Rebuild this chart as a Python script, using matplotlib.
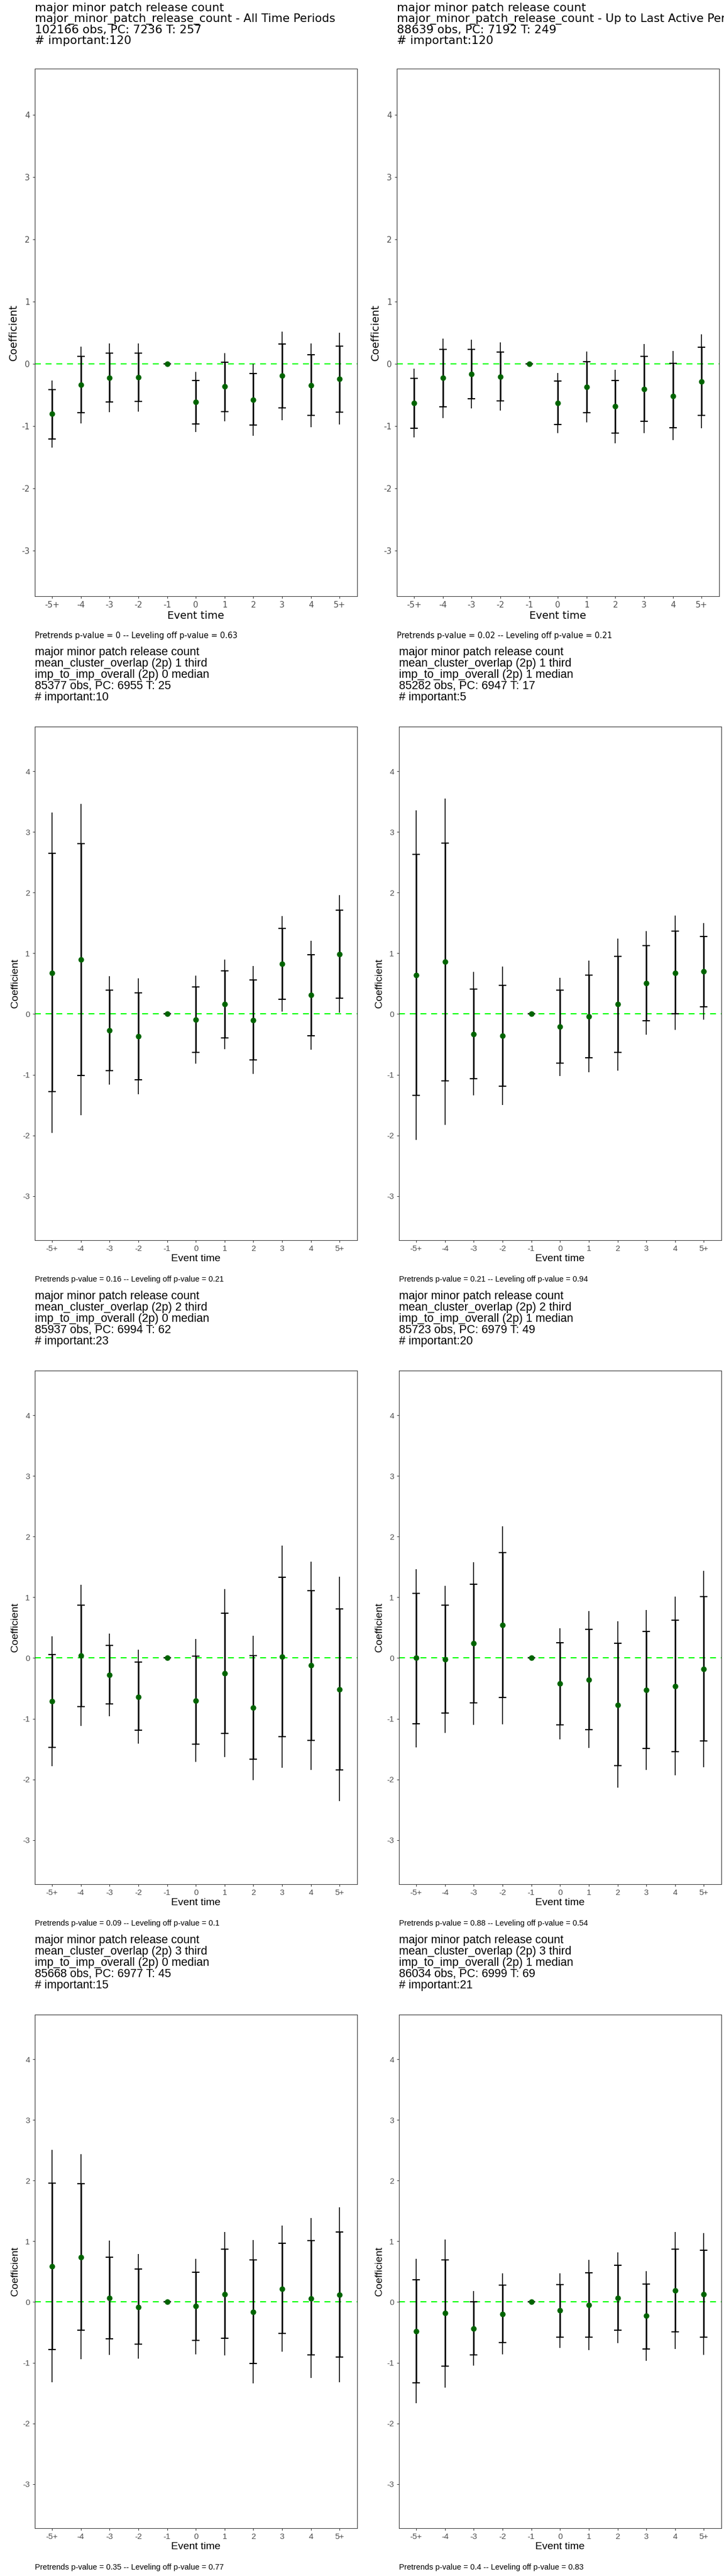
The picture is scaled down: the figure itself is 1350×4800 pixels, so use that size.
import matplotlib
matplotlib.use("Agg")
import matplotlib.pyplot as plt
import numpy as np

event_labels = ['-5+', '-4', '-3', '-2', '-1', '0', '1', '2', '3', '4', '5+']

# each panel: estimate, inner interval (lo/hi), outer interval (lo/hi)
p1_est = [-0.80, -0.33, -0.22, -0.21, 0, -0.61, -0.36, -0.57, -0.19, -0.34, -0.24]
p1_lo_in = [-1.20, -0.78, -0.61, -0.60, 0, -0.96, -0.76, -0.98, -0.70, -0.82, -0.77]
p1_hi_in = [-0.41, 0.12, 0.18, 0.18, 0, -0.26, 0.03, -0.15, 0.32, 0.15, 0.29]
p1_lo_out = [-1.34, -0.95, -0.77, -0.76, 0, -1.09, -0.92, -1.15, -0.90, -1.01, -0.97]
p1_hi_out = [-0.26, 0.28, 0.33, 0.33, 0, -0.13, 0.18, 0.00, 0.52, 0.33, 0.50]

p2_est = [-0.63, -0.22, -0.16, -0.20, 0, -0.63, -0.37, -0.68, -0.40, -0.51, -0.28]
p2_lo_in = [-1.03, -0.69, -0.56, -0.59, 0, -0.97, -0.78, -1.11, -0.92, -1.02, -0.82]
p2_hi_in = [-0.23, 0.24, 0.24, 0.19, 0, -0.27, 0.04, -0.26, 0.12, 0.01, 0.27]
p2_lo_out = [-1.18, -0.87, -0.71, -0.75, 0, -1.11, -0.94, -1.27, -1.11, -1.22, -1.03]
p2_hi_out = [-0.07, 0.41, 0.39, 0.35, 0, -0.14, 0.20, -0.09, 0.32, 0.21, 0.48]

p3_est = [0.68, 0.90, -0.27, -0.37, 0, -0.09, 0.16, -0.10, 0.83, 0.31, 0.99]
p3_lo_in = [-1.28, -1.01, -0.93, -1.08, 0, -0.63, -0.39, -0.76, 0.24, -0.36, 0.26]
p3_hi_in = [2.65, 2.81, 0.39, 0.35, 0, 0.45, 0.71, 0.56, 1.41, 0.98, 1.71]
p3_lo_out = [-1.96, -1.67, -1.16, -1.32, 0, -0.82, -0.58, -0.99, 0.04, -0.59, 0.02]
p3_hi_out = [3.32, 3.46, 0.62, 0.59, 0, 0.63, 0.90, 0.79, 1.61, 1.21, 1.96]

p4_est = [0.64, 0.86, -0.33, -0.36, 0, -0.21, -0.04, 0.16, 0.51, 0.68, 0.70]
p4_lo_in = [-1.34, -1.10, -1.07, -1.19, 0, -0.81, -0.72, -0.63, -0.11, 0.00, 0.12]
p4_hi_in = [2.63, 2.82, 0.41, 0.47, 0, 0.39, 0.64, 0.95, 1.13, 1.37, 1.28]
p4_lo_out = [-2.07, -1.83, -1.34, -1.50, 0, -1.02, -0.96, -0.93, -0.34, -0.26, -0.09]
p4_hi_out = [3.36, 3.55, 0.69, 0.78, 0, 0.60, 0.88, 1.24, 1.37, 1.62, 1.50]

p5_est = [-0.71, 0.04, -0.28, -0.64, 0, -0.70, -0.25, -0.82, 0.02, -0.12, -0.52]
p5_lo_in = [-1.47, -0.80, -0.76, -1.19, 0, -1.42, -1.24, -1.67, -1.30, -1.36, -1.84]
p5_hi_in = [0.06, 0.87, 0.21, -0.07, 0, 0.03, 0.74, 0.04, 1.33, 1.11, 0.81]
p5_lo_out = [-1.78, -1.12, -0.96, -1.41, 0, -1.71, -1.63, -2.01, -1.81, -1.84, -2.36]
p5_hi_out = [0.36, 1.21, 0.40, 0.14, 0, 0.31, 1.14, 0.37, 1.85, 1.59, 1.34]

p6_est = [0.00, -0.02, 0.24, 0.54, 0, -0.42, -0.36, -0.77, -0.53, -0.46, -0.18]
p6_lo_in = [-1.08, -0.91, -0.74, -0.65, 0, -1.10, -1.18, -1.77, -1.49, -1.54, -1.37]
p6_hi_in = [1.07, 0.87, 1.22, 1.74, 0, 0.25, 0.47, 0.24, 0.44, 0.62, 1.01]
p6_lo_out = [-1.47, -1.23, -1.10, -1.09, 0, -1.34, -1.48, -2.14, -1.84, -1.93, -1.80]
p6_hi_out = [1.46, 1.19, 1.58, 2.17, 0, 0.49, 0.77, 0.61, 0.79, 1.01, 1.44]

p7_est = [0.59, 0.74, 0.07, -0.08, 0, -0.07, 0.13, -0.16, 0.22, 0.06, 0.12]
p7_lo_in = [-0.78, -0.46, -0.61, -0.69, 0, -0.63, -0.60, -1.01, -0.52, -0.87, -0.91]
p7_hi_in = [1.96, 1.95, 0.74, 0.54, 0, 0.49, 0.87, 0.69, 0.97, 1.01, 1.15]
p7_lo_out = [-1.32, -0.94, -0.87, -0.93, 0, -0.86, -0.88, -1.34, -0.82, -1.25, -1.32]
p7_hi_out = [2.51, 2.44, 1.01, 0.79, 0, 0.71, 1.15, 1.02, 1.26, 1.38, 1.56]

p8_est = [-0.48, -0.18, -0.44, -0.20, 0, -0.14, -0.05, 0.07, -0.23, 0.19, 0.13]
p8_lo_in = [-1.33, -1.06, -0.87, -0.67, 0, -0.58, -0.58, -0.46, -0.77, -0.49, -0.58]
p8_hi_in = [0.37, 0.69, 0.00, 0.28, 0, 0.29, 0.48, 0.61, 0.30, 0.87, 0.85]
p8_lo_out = [-1.67, -1.41, -1.05, -0.86, 0, -0.76, -0.79, -0.68, -0.97, -0.77, -0.87]
p8_hi_out = [0.71, 1.03, 0.18, 0.47, 0, 0.47, 0.69, 0.82, 0.51, 1.15, 1.14]

titles = [
    "major minor patch release count\nmajor_minor_patch_release_count - All Time Periods\n102166 obs, PC: 7236 T: 257\n# important:120",
    "major minor patch release count\nmajor_minor_patch_release_count - Up to Last Active Period\n88639 obs, PC: 7192 T: 249\n# important:120",
    "major minor patch release count\nmean_cluster_overlap (2p) 1 third\nimp_to_imp_overall (2p) 0 median\n85377 obs, PC: 6955 T: 25\n# important:10",
    "major minor patch release count\nmean_cluster_overlap (2p) 1 third\nimp_to_imp_overall (2p) 1 median\n85282 obs, PC: 6947 T: 17\n# important:5",
    "major minor patch release count\nmean_cluster_overlap (2p) 2 third\nimp_to_imp_overall (2p) 0 median\n85937 obs, PC: 6994 T: 62\n# important:23",
    "major minor patch release count\nmean_cluster_overlap (2p) 2 third\nimp_to_imp_overall (2p) 1 median\n85723 obs, PC: 6979 T: 49\n# important:20",
    "major minor patch release count\nmean_cluster_overlap (2p) 3 third\nimp_to_imp_overall (2p) 0 median\n85668 obs, PC: 6977 T: 45\n# important:15",
    "major minor patch release count\nmean_cluster_overlap (2p) 3 third\nimp_to_imp_overall (2p) 1 median\n86034 obs, PC: 6999 T: 69\n# important:21",
]
captions = [
    "Pretrends p-value = 0 -- Leveling off p-value = 0.63",
    "Pretrends p-value = 0.02 -- Leveling off p-value = 0.21",
    "Pretrends p-value = 0.16 -- Leveling off p-value = 0.21",
    "Pretrends p-value = 0.21 -- Leveling off p-value = 0.94",
    "Pretrends p-value = 0.09 -- Leveling off p-value = 0.1",
    "Pretrends p-value = 0.88 -- Leveling off p-value = 0.54",
    "Pretrends p-value = 0.35 -- Leveling off p-value = 0.77",
    "Pretrends p-value = 0.4 -- Leveling off p-value = 0.83",
]

panels = [
    (p1_est, p1_lo_in, p1_hi_in, p1_lo_out, p1_hi_out),
    (p2_est, p2_lo_in, p2_hi_in, p2_lo_out, p2_hi_out),
    (p3_est, p3_lo_in, p3_hi_in, p3_lo_out, p3_hi_out),
    (p4_est, p4_lo_in, p4_hi_in, p4_lo_out, p4_hi_out),
    (p5_est, p5_lo_in, p5_hi_in, p5_lo_out, p5_hi_out),
    (p6_est, p6_lo_in, p6_hi_in, p6_lo_out, p6_hi_out),
    (p7_est, p7_lo_in, p7_hi_in, p7_lo_out, p7_hi_out),
    (p8_est, p8_lo_in, p8_hi_in, p8_lo_out, p8_hi_out),
]

fig = plt.figure(figsize=(13.5, 48), dpi=100)
x = np.arange(len(event_labels))

for i, (est, lo_in, hi_in, lo_out, hi_out) in enumerate(panels):
    row, col = divmod(i, 2)
    font = 'DejaVu Sans' if row == 0 else 'Liberation Sans'
    top_frac = 0.107 if row == 0 else 0.128
    bot_frac = 0.926
    left = 0.048 if col == 0 else (0.548 if row == 0 else 0.551)
    width = 0.445
    y0 = 1 - (row + bot_frac) / 4
    h = (bot_frac - top_frac) / 4
    ax = fig.add_axes([left, y0, width, h])

    ax.axhline(0, color='#00FF00', ls='--', lw=1.6, dashes=(5, 4), zorder=1)
    ax.vlines(x, lo_out, hi_out, color='black', lw=1.2, zorder=2)
    ax.vlines(x, lo_in, hi_in, color='black', lw=2.0, zorder=2)
    ax.plot(x, lo_in, ls='none', marker='_', ms=10, mew=1.6, color='black', zorder=3)
    ax.plot(x, hi_in, ls='none', marker='_', ms=10, mew=1.6, color='black', zorder=3)
    ax.plot(x, est, ls='none', marker='o', ms=6.5, color='#006400', zorder=4)

    ax.set_xlim(-0.6, 10.6)
    ax.set_ylim(-3.73, 4.74)
    ax.set_yticks([-3, -2, -1, 0, 1, 2, 3, 4])
    ax.set_yticklabels(['-3', '-2', '-1', '0', '1', '2', '3', '4'], fontsize=11, color='#4d4d4d', family=font)
    ax.set_xticks(x)
    ax.set_xticklabels(event_labels, fontsize=11, color='#4d4d4d', family=font)
    ax.tick_params(length=3, color='#333333')
    for s in ax.spines.values():
        s.set_color('#333333')
        s.set_linewidth(0.8)
    ax.set_xlabel('Event time', fontsize=14, family=font, labelpad=2)
    ax.set_ylabel('Coefficient', fontsize=14, family=font, labelpad=4)

    fig.text(left, 1 - (row + 0.004) / 4, titles[i], ha='left', va='top',
             fontsize=15.5, family=font, linespacing=1.0)
    fig.text(left, 1 - (row + 0.987) / 4, captions[i], ha='left', va='center',
             fontsize=10.5, family=font)

fig.savefig('out.png', dpi=100)
